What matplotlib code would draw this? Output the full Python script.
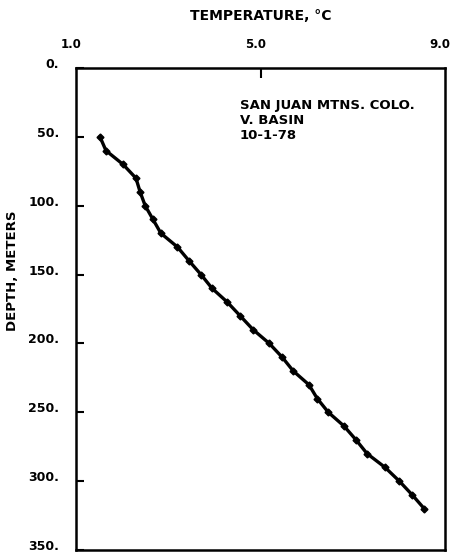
import matplotlib.pyplot as plt
from matplotlib.transforms import ScaledTranslation

# Temperature profile, San Juan Mtns, V. Basin, 10-1-78
depth = [50, 60, 70, 80, 90, 100, 110, 120, 130, 140, 150, 160, 170, 180, 190,
         200, 210, 220, 230, 240, 250, 260, 270, 280, 290, 300, 310, 320]
temp = [1.52, 1.65, 2.02, 2.30, 2.39, 2.50, 2.67, 2.84, 3.20, 3.45, 3.71, 3.95,
        4.28, 4.56, 4.84, 5.19, 5.47, 5.71, 6.05, 6.23, 6.47, 6.81, 7.07, 7.31,
        7.70, 8.01, 8.29, 8.55]

xticks = [1.0, 5.0, 9.0]
xlabels = ["1.0", "5.0", "9.0"]
yticks = [0, 50, 100, 150, 200, 250, 300, 350]
ylabels = ["0.", "50.", "100.", "150.", "200.", "250.", "300.", "350."]
note = ["SAN JUAN MTNS. COLO.", "V. BASIN", "10-1-78"]

plt.rcParams['font.family'] = ["DejaVu Sans"]

fig = plt.figure(figsize=(4.6, 5.54), dpi=100)
ax = fig.add_axes([76 / 460, 1 - 550 / 554, (445 - 76) / 460, (550 - 68) / 554])

ax.plot(temp, depth, color='black', lw=2.4, marker='D', ms=3.5)

ax.set_xlim(1, 9)
ax.set_ylim(350, 0)

ax.xaxis.tick_top()
ax.xaxis.set_label_position('top')
ax.set_xticks(xticks)
ax.set_xticklabels(xlabels, fontsize=8.5, fontweight='bold')
ax.tick_params(axis='x', direction='in', length=7, width=1.5, pad=12)
shift = ScaledTranslation(-5 / 100, 0, fig.dpi_scale_trans)
for i, t in enumerate(ax.xaxis.get_major_ticks()):
    t.label2.set_transform(t.label2.get_transform() + shift)
    if i != 1:
        t.tick2line.set_visible(False)
ax.set_xlabel("TEMPERATURE, °C", fontsize=10, fontweight='bold', labelpad=13)

ax.set_yticks(yticks)
ax.set_yticklabels(ylabels, fontsize=9, fontweight='bold', va='baseline')
ax.yaxis.set_tick_params(which='both', direction='in', length=6, width=1.5, pad=12)
ax.set_ylabel("DEPTH, METERS", fontsize=9.5, fontweight='bold')
ax.yaxis.set_label_coords(-0.155, 0.58)

for s in ax.spines.values():
    s.set_linewidth(1.8)

for i, line in enumerate(note):
    ax.text(4.55, 27 + i * 11, line, fontsize=9.5, fontweight='bold', va='center', ha='left')

fig.savefig("out.png", dpi=100)
